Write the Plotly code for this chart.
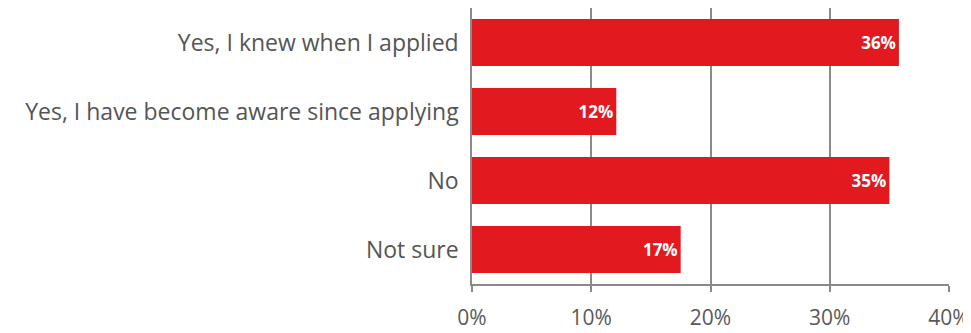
import plotly.graph_objects as go

categories = ["Yes, I knew when I applied", "Yes, I have become aware since applying", "No", "Not sure"]
values = [35.8, 12.1, 35.0, 17.5]
value_labels = ["36%", "12%", "35%", "17%"]
tick_vals = [0, 10, 20, 30, 40]
tick_text = ["0%", "10%", "20%", "30%", "40%"]

fig = go.Figure(go.Bar(
    y=categories, x=values, orientation="h",
    marker=dict(color="#e2191e", line=dict(width=0)),
    text=value_labels, textposition="inside", insidetextanchor="end",
    textfont=dict(color="white", size=17, family="Open Sans"),
    texttemplate="<b>%{text}</b>",
))

fig.update_layout(
    width=971, height=333,
    margin=dict(l=464, r=30, t=0, b=57, autoexpand=False),
    plot_bgcolor="white", paper_bgcolor="white",
    bargap=0.32, showlegend=False,
    font=dict(family="Open Sans", color="#595959", size=22),
)
fig.update_xaxes(
    range=[0, 40], tickvals=tick_vals, ticktext=tick_text,
    showgrid=True, gridcolor="#8a8a8a", gridwidth=1.5,
    showline=True, linecolor="#8a8a8a", linewidth=1.5,
    ticks="outside", ticklen=6, tickcolor="#8a8a8a", tickwidth=1.5,
    ticklabelstandoff=8,
    zeroline=False, automargin=False,
    tickfont=dict(size=21, color="#595959"),
)
fig.update_yaxes(
    categoryorder="array", categoryarray=categories[::-1],
    showline=True, linecolor="#8a8a8a", linewidth=1.5,
    ticks="", ticklabelstandoff=7, automargin=False,
    tickfont=dict(size=23, color="#555555"),
)
fig.write_html("out.html")
